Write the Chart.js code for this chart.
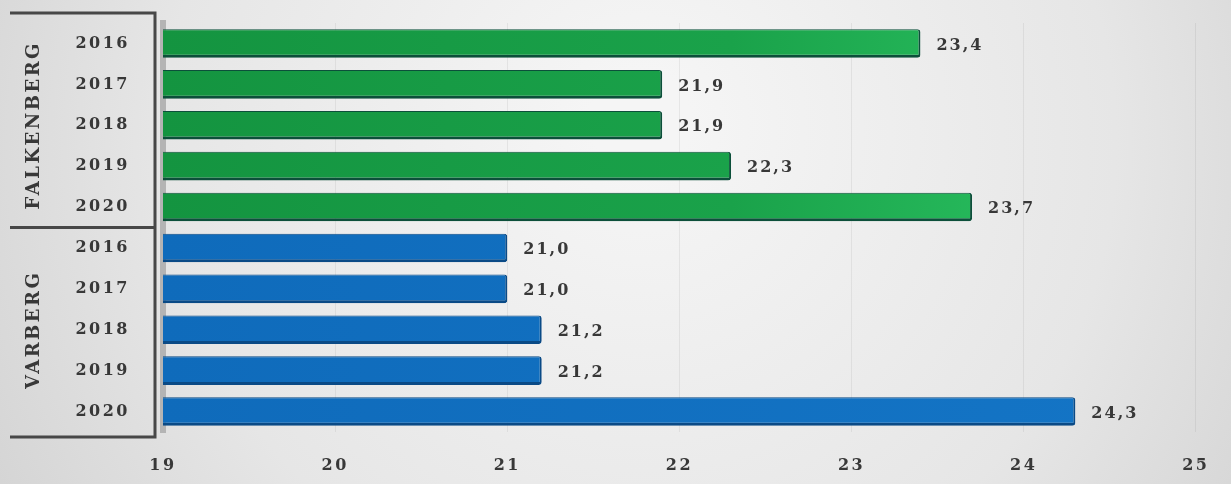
<!DOCTYPE html>
<html>
<head>
<meta charset="utf-8">
<script src="https://cdn.jsdelivr.net/npm/chart.js@4"></script>
<style>
  html, body { margin: 0; padding: 0; }
  body { width: 1231px; height: 484px; overflow: hidden; }
  #wrap { width: 1231px; height: 484px; }
</style>
</head>
<body>
<div id="wrap"><canvas id="mycanvas"></canvas></div>
<script>
// medelvärden per år och kommun
var years = ['2016', '2017', '2018', '2019', '2020'];
var towns = ['FALKENBERG', 'VARBERG'];
var falkenberg = [23.4, 21.9, 21.9, 22.3, 23.7];
var varberg = [21.0, 21.0, 21.2, 21.2, 24.3];
var xMin = 19, xMax = 25;

var textFont = '"DejaVu Serif", serif';
var textColor = '#383838';

var labels = years.concat(years);
var values = falkenberg.concat(varberg);

var greenFill = '#179a45', greenEdge = '#0c4f3a';
var blueFill = '#106ebf', blueEdge = '#0a4a86';

function fillFor(ctx) {
    var chart = ctx.chart, area = chart.chartArea;
    var green = ctx.dataIndex < falkenberg.length;
    if (!area) return green ? greenFill : blueFill;
    var g = chart.ctx.createLinearGradient(area.left, 0, area.right, 0);
    if (green) {
        g.addColorStop(0, '#149440');
        g.addColorStop(0.55, '#1aa24a');
        g.addColorStop(1, '#2fca68');
    } else {
        g.addColorStop(0, '#0f6bbb');
        g.addColorStop(1, '#1475c6');
    }
    return g;
}

// bakgrund med svag ljusgradient
var backdrop = {
    id: 'backdrop',
    beforeInit: function(chart) {
        chart.ctx.letterSpacing = '2.5px';
    },
    beforeDraw: function(chart) {
        var c = chart.ctx;
        c.save();
        var g = c.createRadialGradient(640, 120, 50, 640, 160, 760);
        g.addColorStop(0, '#f5f5f5');
        g.addColorStop(0.6, '#e6e6e6');
        g.addColorStop(1, '#d2d2d2');
        c.fillStyle = g;
        c.fillRect(0, 0, chart.width, chart.height);
        c.restore();
        c.letterSpacing = '2.5px';
    }
};

// ram och kommunnamn till vänster
var groupBox = {
    id: 'groupBox',
    afterDraw: function(chart) {
        var c = chart.ctx, y = chart.scales.y, area = chart.chartArea;
        var top = area.top - 10, bottom = area.bottom + 5;
        var xr = 155, xl = 10;
        var split = y.getPixelForValue(falkenberg.length - 0.5);
        c.save();
        c.strokeStyle = '#474747';
        c.lineWidth = 3;
        c.beginPath();
        c.moveTo(xl, top); c.lineTo(xr, top); c.lineTo(xr, bottom); c.lineTo(xl, bottom);
        c.moveTo(xl, split); c.lineTo(xr, split);
        c.stroke();

        c.fillStyle = textColor;
        c.font = 'bold 18px ' + textFont;
        c.letterSpacing = '2.5px';
        c.textAlign = 'center';
        c.textBaseline = 'middle';
        var mids = [
            (y.getPixelForValue(0) + y.getPixelForValue(falkenberg.length - 1)) / 2,
            (y.getPixelForValue(falkenberg.length) + y.getPixelForValue(labels.length - 1)) / 2
        ];
        towns.forEach(function(t, i) {
            c.save();
            c.translate(34, mids[i]);
            c.rotate(-Math.PI / 2);
            c.fillText(t, 0, 0);
            c.restore();
        });
        c.restore();
    }
};

// värdeetiketter efter staplarna
var valueLabels = {
    id: 'valueLabels',
    afterDatasetsDraw: function(chart) {
        var c = chart.ctx;
        var meta = chart.getDatasetMeta(0);
        c.save();
        c.fillStyle = textColor;
        c.font = 'bold 16px ' + textFont;
        c.letterSpacing = '2px';
        c.textAlign = 'left';
        c.textBaseline = 'middle';
        meta.data.forEach(function(bar, i) {
            var txt = values[i].toFixed(1).replace('.', ',');
            c.fillText(txt, bar.x + 16, bar.y + 2);
        });
        c.restore();
    }
};

var ctx = document.getElementById('mycanvas');

var barGraph = new Chart(ctx, {
    type: 'bar',
    data: {
        labels: labels,
        datasets: [{
            label: 'Medel',
            data: values,
            backgroundColor: fillFor,
            borderColor: function(ctx) {
                return ctx.dataIndex < falkenberg.length ? greenEdge : blueEdge;
            },
            borderWidth: { top: 1, right: 2, bottom: 3, left: 0 },
            borderSkipped: 'start',
            borderRadius: { topRight: 3, bottomRight: 3 },
            barPercentage: 0.7,
            categoryPercentage: 1.0
        }]
    },
    options: {
        indexAxis: 'y',
        responsive: true,
        maintainAspectRatio: false,
        animation: false,
        layout: { padding: { left: 0, right: 24, top: 23, bottom: 0 } },
        plugins: {
            legend: { display: false },
            tooltip: { enabled: false }
        },
        scales: {
            x: {
                min: xMin,
                max: xMax,
                ticks: {
                    stepSize: 1,
                    padding: 24,
                    color: textColor,
                    font: { family: textFont, size: 16, weight: 'bold' }
                },
                grid: { color: 'rgba(0,0,0,0.06)', drawTicks: false },
                border: { display: false },
                afterFit: function(scale) { scale.height = 52; }
            },
            y: {
                ticks: {
                    padding: 33,
                    color: textColor,
                    font: { family: textFont, size: 16, weight: 'bold' }
                },
                grid: { display: false, drawTicks: false },
                border: { color: '#b4b4b4', width: 6 },
                afterFit: function(scale) {
                    scale.width = 163;
                    scale.paddingTop = 0;
                    scale.paddingBottom = 0;
                }
            }
        }
    },
    plugins: [backdrop, groupBox, valueLabels]
});
</script>
</body>
</html>
